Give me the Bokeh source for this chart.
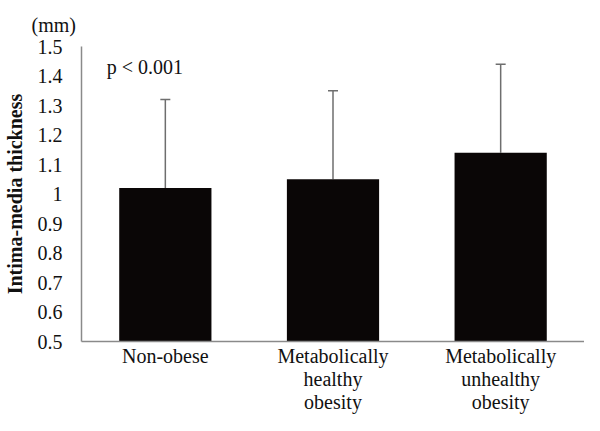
from bokeh.plotting import figure
from bokeh.models import (ColumnDataSource, Range1d, FixedTicker, Whisker, TeeHead,
                          Label, LinearAxis)
from bokeh.embed import file_html
from bokeh.resources import INLINE

# Data
categories = ["Non-obese", "Metabolically healthy obesity", "Metabolically unhealthy obesity"]
label_line1 = ["Non-obese", "Metabolically", "Metabolically"]
label_line2 = ["", "healthy", "unhealthy"]
label_line3 = ["", "obesity", "obesity"]
means = [1.02, 1.05, 1.14]
sds = [0.30, 0.30, 0.30]
y_ticks = [0.5, 0.6, 0.7, 0.8, 0.9, 1.0, 1.1, 1.2, 1.3, 1.4, 1.5]
y_tick_labels = ["0.5", "0.6", "0.7", "0.8", "0.9", "1", "1.1", "1.2", "1.3", "1.4", "1.5"]

xpos = [i + 0.5 for i in range(len(categories))]
upper = [m + s for m, s in zip(means, sds)]
src = ColumnDataSource(dict(x=xpos, cat=categories, mean=means, upper=upper))

FONT = "Liberation Serif"
TXT = "#111111"

p = figure(width=584, height=415, x_range=Range1d(0, len(categories)),
           y_range=Range1d(0.5, 1.5), output_backend="svg", toolbar_location=None,
           min_border_left=72, min_border_right=0, min_border_top=39, min_border_bottom=50,
           title="(mm)")
p.outline_line_color = None
p.xgrid.grid_line_color = None
p.ygrid.grid_line_color = None

p.title.align = "left"
p.title.offset = -50
p.title.standoff = 22
p.title.text_font = FONT
p.title.text_font_size = "20px"
p.title.text_font_style = "normal"
p.title.text_color = TXT

p.vbar(x="x", top="mean", bottom=0.5, width=0.55, source=src,
       fill_color="#0a0606", line_color=None)

w = Whisker(base="x", lower="mean", upper="upper", source=src,
            line_color="#6e6e6e", line_width=1.5,
            upper_head=TeeHead(size=10, line_color="#6e6e6e", line_width=1.5),
            lower_head=None)
p.add_layout(w)

# Y axis
p.yaxis.ticker = FixedTicker(ticks=y_ticks)
p.yaxis.major_label_overrides = dict(zip(y_ticks, y_tick_labels))
p.yaxis.axis_label = "Intima-media thickness"
p.yaxis.major_label_standoff = 19
p.yaxis.axis_label_text_font = FONT
p.yaxis.axis_label_text_font_style = "bold"
p.yaxis.axis_label_text_font_size = "20px"
p.yaxis.axis_label_text_color = TXT
p.yaxis.axis_label_standoff = 9

# X axes: one per label line
p.xaxis[0].ticker = FixedTicker(ticks=xpos)
p.xaxis[0].major_label_overrides = dict(zip(xpos, label_line1))
p.xaxis[0].major_label_standoff = 3
p.xaxis[0].bounds = (0, len(categories))
ax2 = LinearAxis(ticker=FixedTicker(ticks=xpos), axis_line_color=None,
                 major_label_overrides=dict(zip(xpos, label_line2)), major_label_standoff=-2)
ax3 = LinearAxis(ticker=FixedTicker(ticks=xpos), axis_line_color=None,
                 major_label_overrides=dict(zip(xpos, label_line3)), major_label_standoff=-2)
p.add_layout(ax2, "below")
p.add_layout(ax3, "below")

for ax in list(p.xaxis) + list(p.yaxis):
    if ax.axis_line_color is not None:
        ax.axis_line_color = "#8a8a8a"
        ax.axis_line_width = 1.5
    ax.major_tick_line_color = None
    ax.minor_tick_line_color = None
    ax.major_tick_out = 0
    ax.major_tick_in = 0
    ax.minor_tick_out = 0
    ax.minor_tick_in = 0
    ax.major_label_text_font = FONT
    ax.major_label_text_font_size = "20px"
    ax.major_label_text_color = TXT

p.add_layout(Label(x=0.15, y=1.43, text="p < 0.001", text_font=FONT, text_font_size="20px",
                   text_color=TXT, text_baseline="middle"))

open("out.html", "w").write(file_html(p, INLINE))
